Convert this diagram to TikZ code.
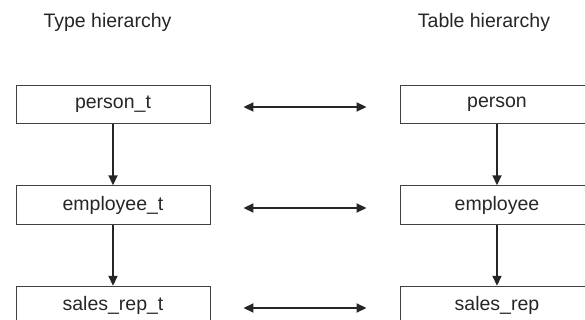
\documentclass[tikz,border=0pt]{standalone}
\usepackage{fontspec}
\setmainfont{Liberation Sans}
\usetikzlibrary{arrows.meta}
\begin{document}
\begin{tikzpicture}[x=1pt,y=-1pt,
  hbox/.style={draw=black!75,line width=0.9pt,minimum width=194pt,minimum height=38.5pt,inner sep=0pt,font=\fontsize{19.5}{21}\selectfont,text=black!85},
  title/.style={font=\fontsize{19.5}{21}\selectfont,text=black!85},
  down/.style={-{Triangle[length=10pt,width=9pt]},line width=1.8pt,black!85},
  both/.style={{Triangle[length=10pt,width=9pt]}-{Triangle[length=10pt,width=9pt]},line width=1.8pt,black!85,shorten <=33pt,shorten >=33pt}]
\useasboundingbox (0,0) rectangle (585,320);
\node[title] (tt) at (107.5,22) {Type hierarchy};
\node[title] (th) at (484,22) {Table hierarchy};
\node[hbox] (pt) at (113,104.5) {person\_t};
\node[hbox] (et) at (113,205) {employee\_t};
\node[hbox] (st) at (113,305.5) {sales\_rep\_t};
\node[hbox] (p) at (497,104.5) {person};
\node[hbox] (e) at (497,205) {employee};
\node[hbox] (s) at (497,305.5) {sales\_rep};
\draw[down] (pt) -- (et);
\draw[down] (et) -- (st);
\draw[down] (p) -- (e);
\draw[down] (e) -- (s);
\draw[both] ([yshift=-2.5pt]pt.east) -- ([yshift=-2.5pt]pt.east -| p.west);
\draw[both] ([yshift=-3pt]et.east) -- ([yshift=-3pt]et.east -| e.west);
\draw[both] ([yshift=-2.5pt]st.east) -- ([yshift=-2.5pt]st.east -| s.west);
\end{tikzpicture}
\end{document}
